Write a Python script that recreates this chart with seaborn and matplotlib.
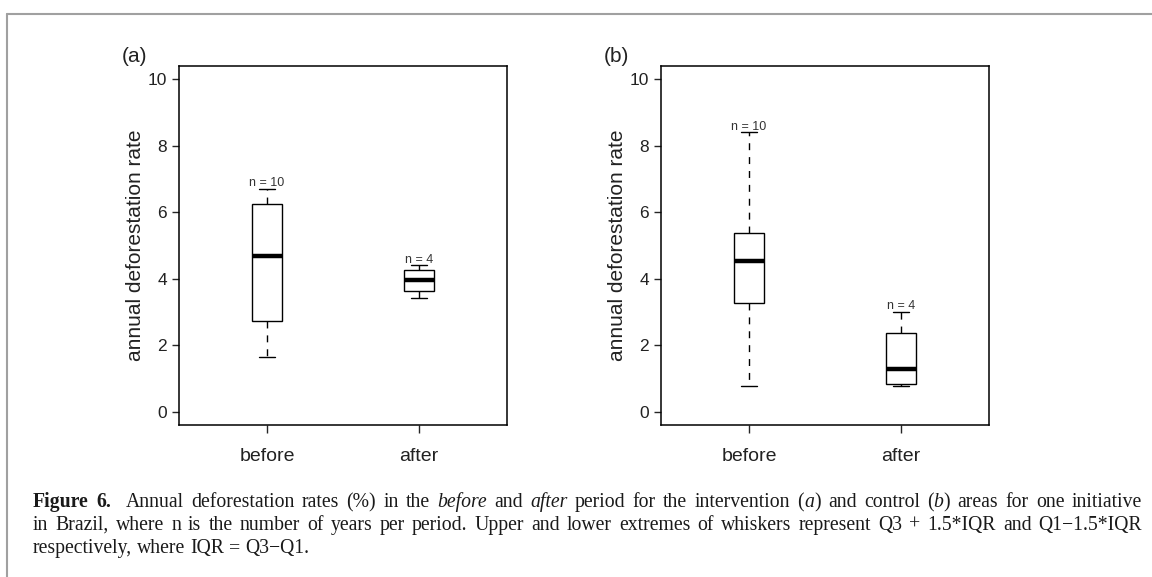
import pandas as pd
import seaborn as sns
import matplotlib.pyplot as plt
from matplotlib.lines import Line2D

# five-number summaries:
# lower whisker, Q1, median, Q3, upper whisker
periods = ["before", "after"]
a_before = [1.66, 2.74, 4.69, 6.26, 6.70]
a_after = [3.43, 3.64, 3.97, 4.25, 4.40]
b_before = [0.77, 3.26, 4.52, 5.39, 8.40]
b_after = [0.78, 0.83, 1.29, 2.36, 3.00]
n_years = [10, 4]
panel_labels = ["(a)", "(b)"]
yticks = [0, 2, 4, 6, 8, 10]

caption_lines = [
    "#Figure# #6.#  Annual deforestation rates (%) in the _before_ and _after_ period for the "
    "intervention (_a_) and control (_b_) areas for one initiative",
    "in Brazil, where n is the number of years per period. Upper and lower extremes of whiskers "
    "represent Q3 + 1.5*IQR and Q1\u22121.5*IQR",
    "respectively, where IQR = Q3\u2212Q1.",
]

sns.set_style("white")
plt.rcParams["font.family"] = ["Liberation Sans", "DejaVu Sans"]

W, H = 1152, 577
fig = plt.figure(figsize=(W / 100, H / 100), dpi=100)

panels = [(a_before, a_after), (b_before, b_after)]
lefts = [179, 661]

for k, (before, after) in enumerate(panels):
    df = pd.DataFrame({
        "period": ["before"] * len(before) + ["after"] * len(after),
        "rate": before + after,
    })
    ax = fig.add_axes([lefts[k] / W, 1 - 425 / H, 328 / W, 359 / H])
    sns.boxplot(data=df, x="period", y="rate", order=periods, ax=ax,
                width=0.2, color="white", linecolor="black", linewidth=1.0,
                fliersize=0, saturation=1,
                medianprops={"linewidth": 3.2},
                whiskerprops={"linestyle": (0, (5, 5))})
    ax.set_xlim(-0.58, 1.58)
    ax.set_ylim(-0.4, 10.4)
    ax.set_yticks(yticks)
    ax.set_xlabel("")
    ax.set_ylabel("annual deforestation rate", fontsize=15, color="#222222")
    ax.yaxis.set_label_coords(-0.105, 0.5)
    ax.tick_params(axis="y", direction="out", length=5, width=1, pad=3.5,
                   labelsize=12.5, labelcolor="#222222", left=True)
    ax.tick_params(axis="x", direction="out", length=5.5, width=1, pad=11,
                   labelsize=14, labelcolor="#222222", bottom=True)
    for sp in ax.spines.values():
        sp.set_visible(True)
        sp.set_color("black")
        sp.set_linewidth(1.1)

    # n labels above the upper whiskers
    for i, vals in enumerate((before, after)):
        ax.annotate(f"n = {n_years[i]}", xy=(i, max(vals)), xytext=(0, 2),
                    textcoords="offset points", ha="center", va="baseline",
                    fontsize=9, color="#333333")

    fig.text((lefts[k] - 57) / W, 1 - 57 / H, panel_labels[k], fontsize=15,
             ha="left", va="center", color="#222222")

# page frame
fig.add_artist(Line2D([7 / W, 1], [1 - 14 / H, 1 - 14 / H], transform=fig.transFigure,
                      color="#a0a0a0", lw=1.5))
fig.add_artist(Line2D([7 / W, 7 / W], [0, 1 - 14 / H], transform=fig.transFigure,
                      color="#a0a0a0", lw=1.5))

# caption, justified like the journal page
serif = ["Liberation Serif", "DejaVu Serif"]
renderer = fig.canvas.get_renderer()


def parse_word(word):
    pieces, buf, bold, ital = [], "", False, False
    for ch in word:
        if ch in "#_":
            if buf:
                pieces.append((buf, bold, ital))
            buf = ""
            if ch == "#":
                bold = not bold
            else:
                ital = not ital
        else:
            buf += ch
    if buf:
        pieces.append((buf, bold, ital))
    return pieces


def make_text(s, fs, bold, ital, x=0, y=0):
    return fig.text(x, y, s, fontsize=fs, family=serif, va="baseline", ha="left",
                    fontweight="bold" if bold else "normal",
                    fontstyle="italic" if ital else "normal", color="#1a1a1a")


def width(s, fs, bold=False, ital=False):
    t = make_text(s, fs, bold, ital)
    w = t.get_window_extent(renderer).width
    t.remove()
    return w


def line_parts(line, fs):
    words = [parse_word(w) for w in line.split(" ")]
    ww = [sum(width(p[0], fs, p[1], p[2]) for p in w) for w in words]
    return words, ww


x0, x1 = 33, 1142
baselines = [507, 530, 553]

fs = 12
words, ww = line_parts(caption_lines[0], fs)
space = width("x x", fs) - width("xx", fs)
natural = sum(ww) + space * (len(ww) - 1)
fs = min(14.2, max(11.0, fs * (x1 - x0) / natural))
space = width("x x", fs) - width("xx", fs)

for li, line in enumerate(caption_lines):
    words, ww = line_parts(line, fs)
    gaps = len(words) - 1
    gap = space
    if li < len(caption_lines) - 1:
        gap = (x1 - x0 - sum(ww)) / gaps
    x = x0
    for w, wd in zip(words, ww):
        px = x
        for s, b, it in w:
            make_text(s, fs, b, it, px / W, 1 - baselines[li] / H)
            px += width(s, fs, b, it)
        x += wd + gap

fig.savefig("out.png", dpi=100)
